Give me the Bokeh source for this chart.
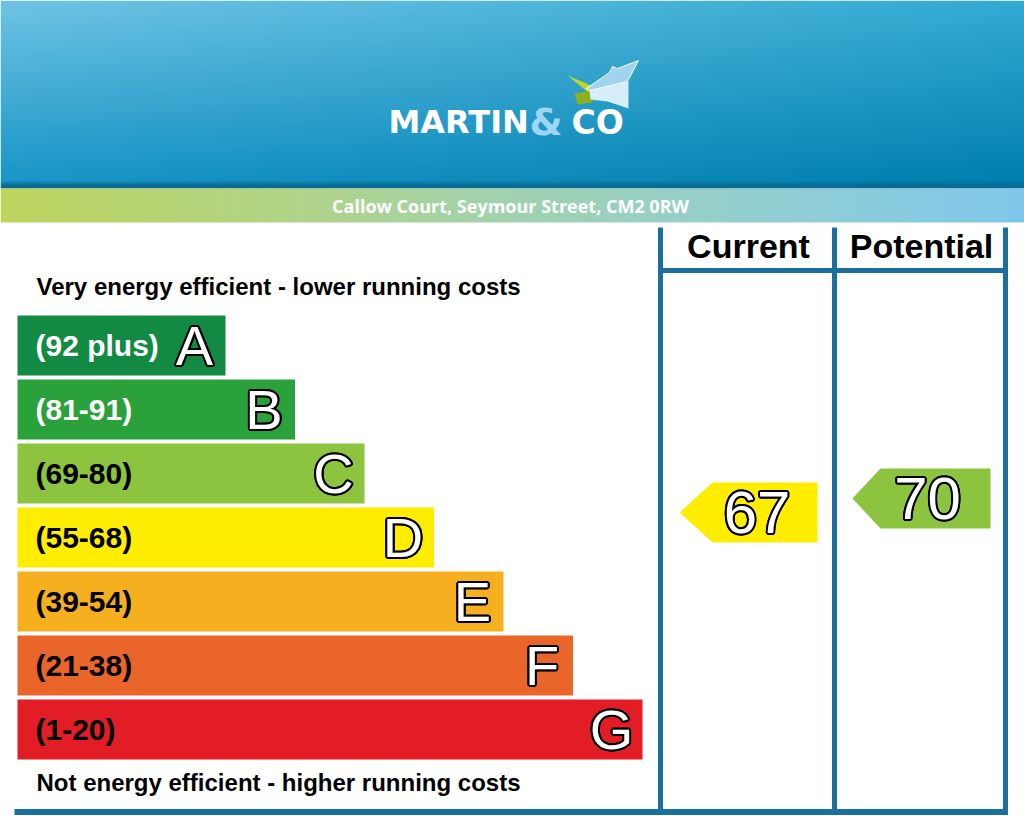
import numpy as np
from bokeh.plotting import figure
from bokeh.models import Range1d
from bokeh.core.properties import value
from bokeh.embed import file_html
from bokeh.resources import INLINE

W, H = 1024, 819

# ---- EPC data -------------------------------------------------------------
bands = ["A", "B", "C", "D", "E", "F", "G"]
band_ranges = ["(92 plus)", "(81-91)", "(69-80)", "(55-68)", "(39-54)", "(21-38)", "(1-20)"]
band_lower = [92, 81, 69, 55, 39, 21, 1]
band_colors = ["#128a43", "#2aa13a", "#8cc43f", "#ffed00", "#f6b01f", "#e9652a", "#e21d25"]
range_text_colors = ["white", "white", "black", "black", "black", "black", "black"]

current_score = 67
potential_score = 70

address = "Callow Court, Seymour Street, CM2 0RW"
top_caption = "Very energy efficient - lower running costs"
bottom_caption = "Not energy efficient - higher running costs"
column_titles = ["Current", "Potential"]

FRAME = "#1b6f9c"
SANS = "Liberation Sans"


def Y(py):
    """screen pixel row -> data y"""
    return H - py


def band_color(score):
    for lo, c in zip(band_lower, band_colors):
        if score >= lo:
            return c
    return band_colors[-1]


def score_to_row(score):
    # arrow centre row on the rating scale
    return 824.7 - 4.667 * score


p = figure(width=W, height=H, x_range=Range1d(0, W), y_range=Range1d(0, H),
           output_backend="svg", toolbar_location=None, min_border=0,
           x_axis_location=None, y_axis_location=None)
p.grid.visible = False
p.outline_line_color = None
p.background_fill_color = "white"
p.border_fill_color = "white"


def text(x, cy, s, size, color, font=SANS, style="bold", align="left"):
    p.text(x=[x], y=[Y(cy)], text=[s], text_font=value(font),
           text_font_size=f"{size}px", text_font_style=style,
           text_color=color, text_align=align, text_baseline="middle")


def outlined(x, cy, s, size, stroke=2.0, style="normal"):
    angs = np.linspace(0, 2 * np.pi, 16, endpoint=False)
    for a in angs:
        p.text(x=[x], y=[Y(cy)], text=[s], text_font=value(SANS),
               text_font_size=f"{size}px", text_font_style=style,
               text_color="black", text_align="center", text_baseline="middle",
               x_offset=float(stroke * np.cos(a)), y_offset=float(stroke * np.sin(a)))
    p.text(x=[x], y=[Y(cy)], text=[s], text_font=value(SANS),
           text_font_size=f"{size}px", text_font_style=style,
           text_color="white", text_align="center", text_baseline="middle")


def to_rgba(img):
    img = np.ascontiguousarray(img[::-1]).astype(np.uint8)
    return img.view(np.uint32).reshape(img.shape[0], img.shape[1])


# ---- header banner gradient ----------------------------------------------
hh = 188
xs = np.linspace(0, 1, W)[None, :, None]
ys = np.linspace(0, 1, hh)[:, None, None]
tl = np.array([112, 196, 228.0])
tr = np.array([52, 170, 210.0])
bl = np.array([26, 150, 200.0])
br = np.array([0, 128, 174.0])
top = tl * (1 - xs) + tr * xs
bot = bl * (1 - xs) + br * xs
ty = np.clip(ys / 0.95, 0, 1)
rgb = top * (1 - ty) + bot * ty
dark = np.array([10, 108, 148.0])
strip = np.clip((ys - 0.96) / 0.025, 0, 1)
rgb = rgb * (1 - strip) + dark * strip
head = np.dstack([rgb, np.full((hh, W, 1), 255.0)])
p.image_rgba(image=[to_rgba(head)], x=0, y=Y(hh), dw=W, dh=hh)

# ---- address bar gradient ------------------------------------------------
bh = 34
stops_x = [0.0, 0.3, 0.5, 0.78, 1.0]
stops_c = [(190, 212, 94), (176, 212, 138), (160, 210, 176), (144, 206, 214), (128, 200, 236)]
row = np.stack([np.interp(np.linspace(0, 1, W), stops_x, [c[k] for c in stops_c]) for k in range(3)], axis=-1)
bar = np.repeat(row[None, :, :], bh, axis=0)
bar = np.dstack([bar, np.full((bh, W, 1), 255.0)])
p.image_rgba(image=[to_rgba(bar)], x=0, y=Y(222), dw=W, dh=bh)
text(510, 205, address, 18, "white", font="Open Sans", style="bold", align="center")

# ---- logo ----------------------------------------------------------------
p.patch([567, 593, 589], [Y(75), Y(86), Y(93)], color="#c2d52c", line_color=None)
p.patch([574, 592, 592, 577], [Y(93), Y(90), Y(102), Y(104)], color="#8eae24", line_color=None)
p.patch([589, 628, 628, 607, 590], [Y(90), Y(81), Y(108), Y(101), Y(99)],
        color="#d6eef9", line_color=None)
p.patch([586, 609, 612, 617, 638, 627, 589], [Y(88), Y(72), Y(66), Y(68), Y(60), Y(81), Y(90)],
        color="#9fd3ee", line_color="white", line_width=1)
text(388, 121.5, "MARTIN", 32, "white", font="DejaVu Sans")
text(529, 121.5, "&", 38, "#9dd6f2", font="DejaVu Sans")
text(571, 121.5, "CO", 33, "white", font="DejaVu Sans")

# ---- rating bands --------------------------------------------------------
bar_left = 17
tops = [315 + 64 * i for i in range(len(bands))]
rights = [225 + 69.5 * i for i in range(len(bands))]
p.quad(left=[bar_left] * len(bands), right=rights,
       top=[Y(t) for t in tops], bottom=[Y(t + 60) for t in tops],
       fill_color=band_colors, line_color=None)
for i, b in enumerate(bands):
    cy = tops[i] + 30
    text(35, cy, band_ranges[i], 30, range_text_colors[i])
    outlined(rights[i] - 31, cy, b, 56)

text(36, 286, top_caption, 24, "black")
text(36, 782, bottom_caption, 24, "black")

# ---- frame ---------------------------------------------------------------
for x in (660, 834, 1005):
    p.line([x, x], [Y(227), Y(814)], line_color=FRAME, line_width=5)
p.line([660, 1005], [Y(270), Y(270)], line_color=FRAME, line_width=5)
p.line([14, 1007.5], [Y(811.5), Y(811.5)], line_color=FRAME, line_width=6)
text(748, 245, column_titles[0], 34, "black", align="center")
text(921, 245, column_titles[1], 34, "black", align="center")


# ---- score arrows --------------------------------------------------------
def arrow(score, tip_x, right_x, tip_len):
    cy = score_to_row(score)
    xs_ = [tip_x, tip_x + tip_len, right_x, right_x, tip_x + tip_len]
    ys_ = [Y(cy), Y(cy - 30), Y(cy - 30), Y(cy + 30), Y(cy + 30)]
    p.patch(xs_, ys_, color=band_color(score), line_color=None)
    outlined((tip_x + tip_len + right_x) / 2 - 8, cy, str(score), 60)


arrow(current_score, 679, 817, 33)
arrow(potential_score, 852, 990, 28)

open("out.html", "w").write(file_html(p, INLINE))
